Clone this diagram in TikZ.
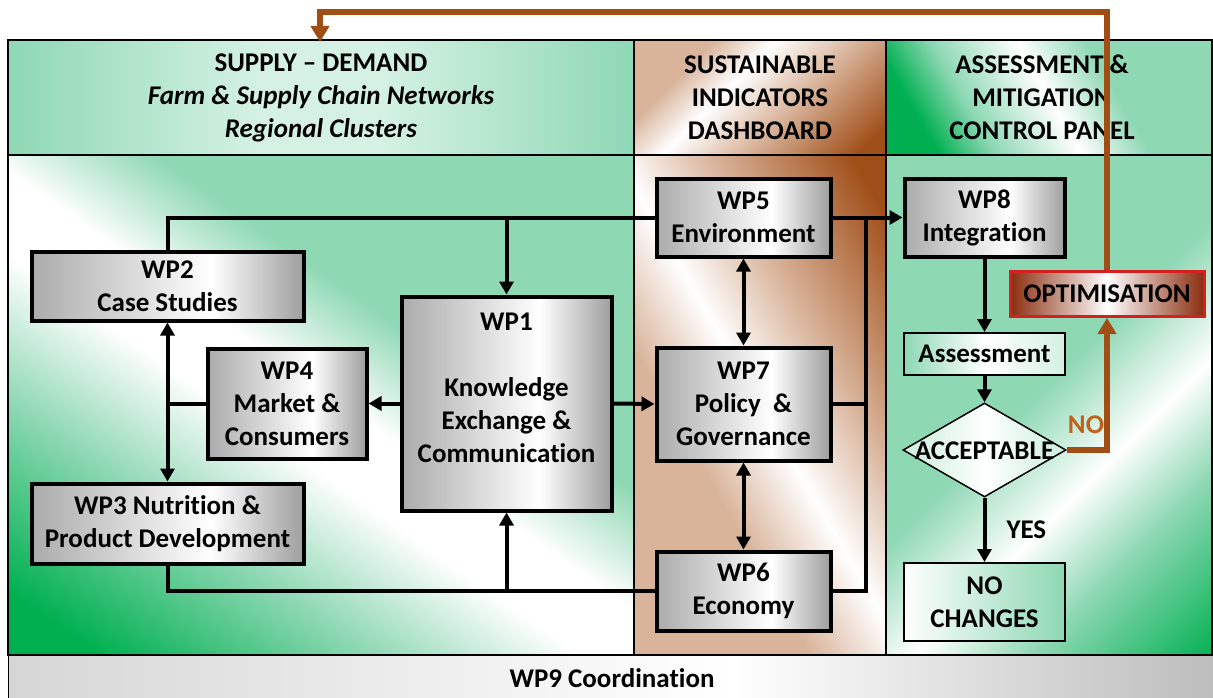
\documentclass[tikz,border=0pt]{standalone}
\usepackage{fontspec}
\setmainfont{Carlito}[Ligatures=NoCommon]
\usetikzlibrary{arrows.meta,shapes.geometric}
\definecolor{gdark}{HTML}{00B050}
\definecolor{gmint}{HTML}{8ED8B4}
\definecolor{gpale}{HTML}{D4F1E3}
\definecolor{btan}{HTML}{D9B49B}
\definecolor{bdark}{HTML}{A04E18}
\definecolor{barrow}{HTML}{A04E14}
\definecolor{nolab}{HTML}{C0621C}
\definecolor{gboxl}{HTML}{ABABAB}
\definecolor{gboxr}{HTML}{9E9E9E}
\definecolor{bopt}{HTML}{8A2C0E}
\definecolor{ropt}{HTML}{D42020}
\definecolor{wpl}{HTML}{D6D6D6}
\definecolor{wpr}{HTML}{BDBDBD}
\pgfdeclarehorizontalshading{shHdrL}{100bp}{color(0bp)=(gmint); color(25bp)=(gmint); color(45bp)=(gpale); color(55bp)=(gpale); color(75bp)=(gmint); color(100bp)=(gmint)}
\pgfdeclarehorizontalshading{shBodyL}{100bp}{color(0bp)=(gdark); color(20bp)=(gdark); color(34bp)=(gmint); color(45bp)=(white); color(51bp)=(white); color(60bp)=(gmint); color(100bp)=(gmint)}
\pgfdeclarehorizontalshading{shHdrM}{100bp}{color(0bp)=(btan); color(30bp)=(btan); color(42bp)=(white); color(58bp)=(btan); color(80bp)=(bdark); color(100bp)=(bdark)}
\pgfdeclarehorizontalshading{shBodyM}{100bp}{color(0bp)=(btan); color(38bp)=(btan); color(50bp)=(white); color(62bp)=(btan); color(80bp)=(bdark); color(100bp)=(bdark)}
\pgfdeclarehorizontalshading{shHdrR}{100bp}{color(0bp)=(gdark); color(25bp)=(gdark); color(35bp)=(gmint); color(50bp)=(white); color(62bp)=(gmint); color(100bp)=(gmint)}
\pgfdeclarehorizontalshading{shBodyR}{100bp}{color(0bp)=(gmint); color(48bp)=(gmint); color(60bp)=(white); color(70bp)=(gmint); color(86bp)=(gdark); color(100bp)=(gdark)}
\pgfdeclarehorizontalshading{shGray}{100bp}{color(0bp)=(gboxl); color(25bp)=(gboxl); color(58bp)=(white); color(75bp)=(gboxr); color(100bp)=(gboxr)}
\pgfdeclarehorizontalshading{shWPnine}{100bp}{color(0bp)=(wpl); color(25bp)=(wpl); color(55bp)=(white); color(75bp)=(wpr); color(100bp)=(wpr)}
\pgfdeclarehorizontalshading{shOpt}{100bp}{color(0bp)=(bopt); color(25bp)=(bopt); color(50bp)=(white); color(75bp)=(bopt); color(100bp)=(bopt)}
\pgfdeclarehorizontalshading{shAsm}{100bp}{color(0bp)=(gmint); color(25bp)=(gmint); color(50bp)=(white); color(75bp)=(gpale); color(100bp)=(gpale)}
\pgfdeclarehorizontalshading{shNoc}{100bp}{color(0bp)=(white); color(25bp)=(white); color(75bp)=(gmint); color(100bp)=(gmint)}
\pgfdeclarehorizontalshading{shDia}{100bp}{color(0bp)=(gpale); color(30bp)=(gpale); color(50bp)=(white); color(70bp)=(gpale); color(100bp)=(gpale)}
\tikzset{
  txt/.style={font=\bfseries\fontsize{27}{33}\selectfont, align=center, inner sep=0pt, text=black},
  wpbox/.style={txt, draw=black, line width=4pt, shade, shading=shGray},
  greenbox/.style={txt, draw=black, line width=2pt, shade},
  gridln/.style={draw=black, line width=2pt},
  conn/.style={draw=black, line width=4pt},
  arr/.style={conn, -{Triangle[length=13pt,width=14pt]}},
  darr/.style={conn, {Triangle[length=13pt,width=14pt]}-{Triangle[length=13pt,width=14pt]}},
  barr/.style={draw=barrow, line width=6pt, -{Triangle[length=16pt,width=18pt]}}
}
\begin{document}
\begin{tikzpicture}[x=1pt,y=-1pt]
\useasboundingbox (0,0) rectangle (1213,698);
% backgrounds
\path[shade, shading=shHdrL] (8,40) rectangle (634,155);
\path[shade, shading=shBodyL, shading angle=55] (8,155) rectangle (634,655);
\path[shade, shading=shHdrM, shading angle=-45] (634,40) rectangle (886,155);
\path[shade, shading=shBodyM, shading angle=30] (634,155) rectangle (886,655);
\path[shade, shading=shHdrR, shading angle=30] (886,40) rectangle (1213,155);
\path[shade, shading=shBodyR, shading angle=-45] (886,155) rectangle (1213,655);
\path[shade, shading=shWPnine] (8,655) rectangle (1213,698);
\draw[gridln] (8,40) rectangle (1212,655);
\draw[gridln] (8,155) -- (1212,155);
\draw[gridln] (634,40) -- (634,655);
\draw[gridln] (886,40) -- (886,655);
\draw[draw=black, line width=1pt] (8,655) -- (8,698);
% header texts
\node[txt] (hL) at (321,97.5) {SUPPLY – DEMAND\\\textit{Farm \& Supply Chain Networks}\\\textit{Regional Clusters}};
\node[txt] (hM) at (760,97.5) {SUSTAINABLE\\INDICATORS\\DASHBOARD};
\node[txt] (hR) at (1042,97.5) {ASSESSMENT \&\\MITIGATION\\CONTROL PANEL};
\node[txt] (wp9) at (612,678) {WP9 Coordination};
% boxes
\node[wpbox, minimum width=272pt, minimum height=69pt] (wp2) at (167.5,286) {WP2\\Case Studies};
\node[wpbox, minimum width=210pt, minimum height=214pt] (wp1) at (506.5,403.5) {};
\node[txt] (wp1t) at (506.5,388) {WP1\\[33pt]Knowledge\\Exchange \&\\Communication};
\node[wpbox, minimum width=159pt, minimum height=110pt] (wp4) at (287,403.5) {WP4\\Market \&\\Consumers};
\node[wpbox, minimum width=272pt, minimum height=80pt] (wp3) at (167.5,523.5) {WP3 Nutrition \&\\Product Development};
\node[wpbox, minimum width=174pt, minimum height=78pt] (wp5) at (743.5,217.5) {WP5\\Environment};
\node[wpbox, minimum width=174pt, minimum height=113pt] (wp7) at (743.5,404) {WP7\\Policy~ \&\\Governance};
\node[wpbox, minimum width=174pt, minimum height=79pt] (wp6) at (743.5,591) {WP6\\Economy};
\node[wpbox, minimum width=160pt, minimum height=78pt] (wp8) at (984.5,217.5) {WP8\\Integration};
\node[txt, draw=ropt, line width=3pt, shade, shading=shOpt, minimum width=194pt, minimum height=45pt] (opt) at (1107,294) {OPTIMISATION};
\node[greenbox, shading=shAsm, minimum width=161pt, minimum height=42pt] (asm) at (984.5,354) {Assessment};
\node[draw=black, line width=1.5pt, diamond, shade, shading=shDia, minimum width=163pt, minimum height=94pt, inner sep=0pt] (acc) at (984.5,450) {};
\node[txt] (acct) at (984.5,451) {ACCEPTABLE};
\node[greenbox, shading=shNoc, minimum width=161pt, minimum height=78pt] (noc) at (984.5,602) {NO\\CHANGES};
% connectors
\coordinate (busx) at (866,0);
\coordinate (fa) at (320,12);
\coordinate (fb) at (320,42);
\draw[conn] (wp2.north) |- (wp5.west);
\draw[arr] (wp1.north |- wp5.west) -- (wp1.north);
\draw[arr] (wp5.east) -- (wp8.west);
\draw[conn] (wp6.east) -| (wp5.east -| busx);
\draw[conn] (wp7.east) -- (wp7.east -| busx);
\draw[darr] (wp5.south) -- (wp7.north);
\draw[darr] (wp7.south) -- (wp6.north);
\draw[arr] (wp1.east) -- (wp7.west);
\draw[arr] (wp1.west) -- (wp4.east);
\draw[conn] (wp4.west) -- (wp4.west -| wp2.south);
\draw[darr] (wp2.south) -- (wp3.north);
\draw[conn] (wp3.south) |- (wp6.west);
\draw[arr] (wp1.south |- wp6.west) -- (wp1.south);
\draw[arr] (wp8.south) -- (asm.north);
\draw[arr] (asm.south) -- (acc.north);
\draw[arr] (acc.south) -- node[txt, right=20pt] (yes) {YES} (noc.north);
\draw[barr] (acc.east) -| (opt.south);
\node[txt, text=nolab] (nol) at (1086,425) {NO};
\draw[barr] (opt.north) |- (fa) -- (fb);
\end{tikzpicture}
\end{document}
